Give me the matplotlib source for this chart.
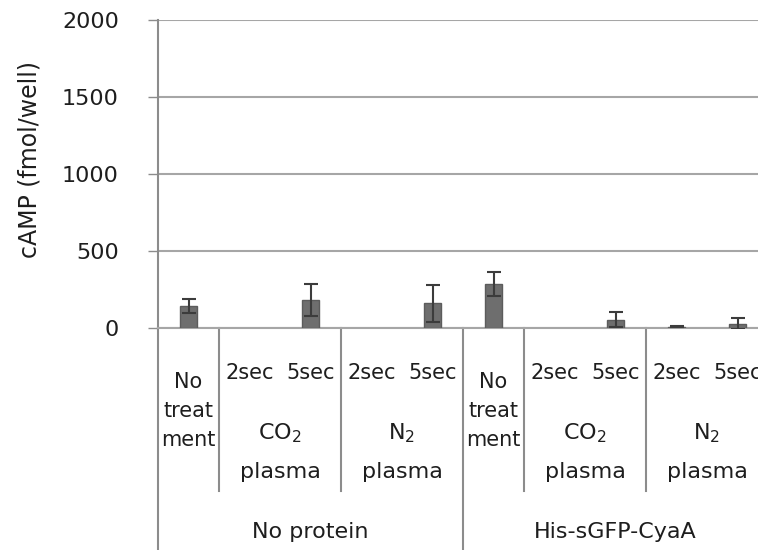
import matplotlib.pyplot as plt
from matplotlib import transforms

# values (fmol/well)
groups = ["No protein", "His-sGFP-CyaA"]
treatments = ["No\ntreat\nment", "$\\mathregular{CO_2}$\nplasma", "$\\mathregular{N_2}$\nplasma"]
times = ["", "2sec", "5sec", "2sec", "5sec"]
camp = [145, 0, 182, 0, 160, 288, 0, 55, 8, 28]
camp_err = [45, 0, 102, 0, 120, 77, 0, 50, 3, 37]

plt.rcParams['font.family'] = 'DejaVu Sans'
txt_color = '#1e1e1e'
grid_color = '#a6a6a6'
axis_color = '#8c8c8c'

fig = plt.figure(figsize=(7.58, 5.5), dpi=100)
# axes runs past the right edge, as in the reference
ax = fig.add_axes([158 / 758, 222 / 550, 610 / 758, 308 / 550])

x = list(range(len(camp)))
ax.bar(x, camp, width=0.29, color='#6e6e6e', edgecolor='#5c5c5c',
       linewidth=[1 if v > 0 else 0 for v in camp], zorder=3)
ex = [i for i in x if camp[i] > 0]
ax.errorbar(ex, [camp[i] for i in ex], yerr=[camp_err[i] for i in ex], fmt='none',
            ecolor='#3c3c3c', elinewidth=1.5, capsize=5, capthick=1.5, zorder=4)

ax.set_xlim(-0.5, 9.5)
ax.set_ylim(0, 2000)
ax.set_yticks([0, 500, 1000, 1500, 2000])
ax.yaxis.grid(True, color=grid_color, linewidth=1.5, zorder=0)
ax.set_axisbelow(True)
ax.set_xticks([])
ax.tick_params(axis='y', length=7.2, width=1, color=axis_color, pad=21, labelsize=16,
               labelcolor=txt_color)
for s in ['top', 'right']:
    ax.spines[s].set_visible(False)
ax.spines['left'].set_color(axis_color)
ax.spines['left'].set_linewidth(1.5)
ax.spines['bottom'].set_color(grid_color)
ax.spines['bottom'].set_linewidth(1.5)

fig.text(30 / 758, (550 - 160) / 550, "cAMP (fmol/well)", rotation=90, ha='center',
         va='center', fontsize=17, color=txt_color)

# multi-level category axis below the plot
tr = transforms.blended_transform_factory(ax.transData, fig.transFigure)

def fy(py):
    return (550 - py) / 550

for g in range(2):
    base = g * 5
    ax.plot([base - 0.5, base - 0.5], [fy(328), 0], transform=tr, color=axis_color,
            lw=1.5, clip_on=False)
    for b in [base + 0.5, base + 2.5]:
        ax.plot([b, b], [fy(328), fy(491)], transform=tr, color=axis_color,
                lw=1.5, clip_on=False)
    # no treatment label, line by line
    for k, line in enumerate(treatments[0].split("\n")):
        ax.text(base, fy(382 + k * 29), line, transform=tr, ha='center', va='center',
                fontsize=15, color=txt_color)
    for j in range(1, 5):
        ax.text(base + j, fy(373), times[j], transform=tr, ha='center', va='center',
                fontsize=15, color=txt_color)
    for t in range(1, 3):
        top, bottom = treatments[t].split("\n")
        cx = base + 2 * t - 0.5
        ax.text(cx, fy(433), top, transform=tr, ha='center', va='center',
                fontsize=16, color=txt_color)
        ax.text(cx, fy(472), bottom, transform=tr, ha='center', va='center',
                fontsize=16, color=txt_color)
    ax.text(base + 2, fy(532), groups[g], transform=tr, ha='center', va='center',
            fontsize=16, color=txt_color)
ax.plot([9.5, 9.5], [fy(328), 0], transform=tr, color=axis_color, lw=1.5, clip_on=False)

fig.savefig("out.png", dpi=100)
